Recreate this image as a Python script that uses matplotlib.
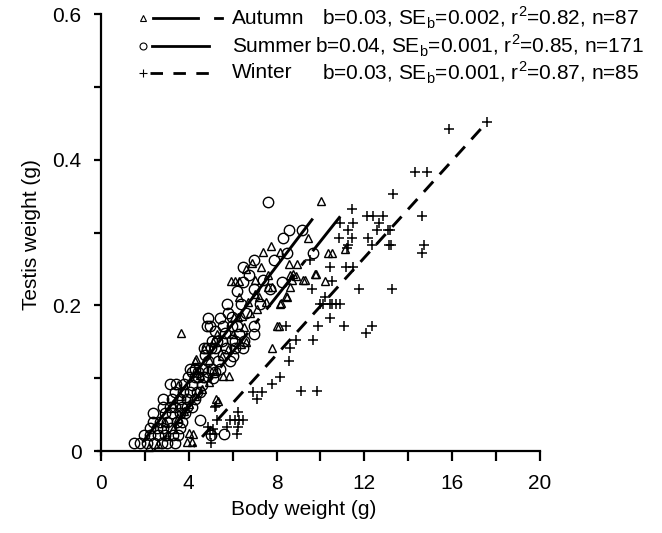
import numpy as np
import matplotlib
matplotlib.use('Agg')
import matplotlib.pyplot as plt
from matplotlib.lines import Line2D

plt.rcParams['font.family'] = ['Liberation Sans', 'DejaVu Sans']
plt.rcParams['mathtext.fontset'] = 'custom'
plt.rcParams['mathtext.rm'] = 'Liberation Sans'
plt.rcParams['lines.scale_dashes'] = False

# body weight (g), testis weight (g)
autumn_pts = [
    (10.02, 0.343), (9.45, 0.293), (10.36, 0.272), (10.54, 0.272), (11.12, 0.277), (8.58, 0.257),
    (8.94, 0.257), (9.75, 0.243), (8.75, 0.243), (8.9, 0.240), (9.2, 0.235), (10.2, 0.233),
    (8.43, 0.213), (8.2, 0.203), (7.75, 0.282), (7.4, 0.273), (8.15, 0.273), (7.28, 0.252),
    (6.6, 0.250), (7.6, 0.242), (8.6, 0.242), (5.9, 0.233), (6.1, 0.233), (6.3, 0.233),
    (8.7, 0.235), (9.3, 0.235), (9.8, 0.243), (7.6, 0.225), (7.8, 0.225), (8.6, 0.225),
    (6.3, 0.212), (7.0, 0.215), (7.2, 0.212), (8.46, 0.212), (8.16, 0.202), (8.0, 0.171),
    (7.78, 0.142), (6.05, 0.184), (6.24, 0.184), (6.41, 0.185), (6.4, 0.147), (6.6, 0.150),
    (5.57, 0.103), (5.82, 0.103), (5.25, 0.072), (5.35, 0.068), (4.33, 0.126), (4.28, 0.123),
    (3.93, 0.013), (4.13, 0.013), (4.0, 0.025), (4.2, 0.023), (3.64, 0.162), (8.1, 0.171),
    (3.52, 0.090), (2.2, 0.005), (2.6, 0.010), (3.0, 0.020), (3.3, 0.030), (3.5, 0.045),
    (3.8, 0.055), (4.0, 0.065), (4.3, 0.075), (4.6, 0.085), (4.9, 0.095), (5.2, 0.110),
    (5.5, 0.130), (5.8, 0.140), (6.0, 0.160), (6.5, 0.170), (6.8, 0.190), (7.1, 0.195),
    (7.5, 0.205), (2.9, 0.040), (3.3, 0.065), (3.6, 0.075), (4.5, 0.105), (4.9, 0.125),
    (5.3, 0.160), (6.7, 0.205), (7.0, 0.235), (6.9, 0.258), (5.1, 0.150), (4.7, 0.140),
]

summer_pts = [
    (7.59, 0.342), (8.58, 0.303), (8.31, 0.292), (9.16, 0.303), (8.46, 0.272), (9.64, 0.272),
    (6.97, 0.262), (7.88, 0.262), (6.45, 0.252), (6.76, 0.242), (6.45, 0.232), (8.23, 0.232),
    (6.97, 0.222), (7.72, 0.222), (5.73, 0.202), (6.36, 0.202), (7.24, 0.202), (4.89, 0.182),
    (5.42, 0.182), (5.95, 0.184), (4.82, 0.172), (4.95, 0.172), (5.57, 0.171), (5.95, 0.171),
    (6.18, 0.172), (6.97, 0.172), (5.65, 0.162), (6.30, 0.161), (6.97, 0.160), (5.04, 0.151),
    (5.27, 0.151), (5.50, 0.151), (5.95, 0.152), (6.10, 0.151), (6.50, 0.151), (4.70, 0.142),
    (4.85, 0.141), (5.00, 0.141), (5.20, 0.141), (5.70, 0.141), (6.10, 0.141), (6.48, 0.142),
    (4.74, 0.132), (5.57, 0.132), (4.89, 0.123), (5.35, 0.123), (5.88, 0.123), (6.0, 0.130),
    (4.05, 0.112), (4.28, 0.112), (4.66, 0.112), (5.04, 0.112), (5.42, 0.112), (3.97, 0.102),
    (4.28, 0.102), (4.66, 0.102), (5.1, 0.100), (3.14, 0.092), (3.42, 0.092), (3.78, 0.092),
    (4.13, 0.091), (4.59, 0.091), (3.37, 0.081), (3.75, 0.081), (4.05, 0.081), (4.36, 0.081),
    (4.51, 0.081), (2.81, 0.072), (3.22, 0.072), (3.60, 0.072), (3.90, 0.072), (4.28, 0.072),
    (2.84, 0.061), (3.14, 0.061), (3.37, 0.061), (3.68, 0.061), (3.90, 0.061), (4.13, 0.061),
    (2.38, 0.052), (2.92, 0.052), (3.22, 0.052), (3.60, 0.052), (3.83, 0.052), (2.38, 0.040),
    (2.69, 0.040), (2.99, 0.040), (3.45, 0.040), (3.68, 0.040), (4.51, 0.043), (2.23, 0.031),
    (2.53, 0.031), (2.84, 0.031), (3.20, 0.031), (3.60, 0.031), (1.97, 0.022), (2.23, 0.022),
    (2.61, 0.022), (2.92, 0.022), (3.29, 0.022), (3.52, 0.022), (5.0, 0.022), (5.6, 0.023),
    (1.52, 0.011), (1.78, 0.011), (2.08, 0.011), (2.43, 0.011), (2.77, 0.011), (3.00, 0.011),
    (3.37, 0.011), (4.43, 0.102), (4.74, 0.102), (4.13, 0.109), (4.43, 0.109), (4.89, 0.109),
    (5.2, 0.109), (5.2, 0.165), (5.8, 0.190), (6.6, 0.190), (7.4, 0.235), (6.2, 0.220),
]

winter_pts = [
    (17.57, 0.452), (15.87, 0.442), (14.31, 0.383), (14.84, 0.383), (13.32, 0.353), (11.42, 0.332),
    (12.13, 0.323), (12.41, 0.323), (12.86, 0.323), (14.64, 0.323), (10.89, 0.313), (11.5, 0.313),
    (12.68, 0.313), (11.27, 0.303), (12.59, 0.303), (13.09, 0.303), (13.17, 0.303), (10.86, 0.292),
    (11.45, 0.292), (12.18, 0.292), (11.24, 0.283), (11.2, 0.279), (12.36, 0.283), (13.1, 0.283),
    (13.2, 0.283), (14.73, 0.283), (14.61, 0.272), (9.5, 0.262), (10.43, 0.252), (11.16, 0.252),
    (11.47, 0.252), (10.51, 0.233), (9.6, 0.222), (11.77, 0.222), (13.24, 0.222), (10.2, 0.212),
    (9.98, 0.202), (10.13, 0.202), (10.43, 0.202), (10.51, 0.202), (10.71, 0.202), (10.89, 0.202),
    (10.43, 0.182), (8.43, 0.172), (9.9, 0.172), (11.07, 0.172), (12.33, 0.172), (12.06, 0.162),
    (8.9, 0.152), (9.64, 0.152), (8.61, 0.142), (8.58, 0.123), (8.15, 0.102), (7.78, 0.092),
    (6.94, 0.081), (7.32, 0.081), (7.12, 0.071), (9.1, 0.082), (9.83, 0.082), (5.24, 0.062),
    (6.26, 0.053), (5.88, 0.043), (6.1, 0.043), (6.3, 0.043), (6.46, 0.043), (5.73, 0.033),
    (6.26, 0.033), (4.89, 0.033), (6.18, 0.023), (5.0, 0.011), (5.3, 0.043), (5.1, 0.030),
    (4.97, 0.024), (5.2, 0.024), (5.2, 0.061),
]

seasons = ['Autumn', 'Summer', 'Winter']
stat_b = ['0.03', '0.04', '0.03']
stat_se = ['0.002', '0.001', '0.001']
stat_r2 = ['0.82', '0.85', '0.87']
stat_n = ['87', '171', '85']
# regression lines: intercept, slope, x span
fit_a = [-0.092, -0.063, -0.134]
fit_b = [0.038, 0.0396, 0.0333]
fit_span = [(10.9, 2.45), (9.65, 1.9), (17.3, 4.2)]

markers = ['^', 'o', '+']
msizes = [5.5, 7.5, 7.5]
styles = [(0, (32, 8.5, 4.5, 8.5)), '-', (0, (10, 7))]

fig = plt.figure(figsize=(6.62, 5.33), dpi=100)
ax = fig.add_axes([0.1476, 0.1456, 0.6681, 0.8281])

for pts, m, ms in zip([autumn_pts, summer_pts, winter_pts], markers, msizes):
    p = np.array(pts)
    if m == '+':
        ax.plot(p[:, 0], p[:, 1], ls='none', marker=m, ms=ms, mew=1.1, color='black', clip_on=False)
    else:
        ax.plot(p[:, 0], p[:, 1], ls='none', marker=m, ms=ms, mfc='none', mec='black', mew=1.0,
                clip_on=False)

for a, b, span, st in zip(fit_a, fit_b, fit_span, styles):
    x = np.array(span)
    ax.plot(x, a + b * x, color='black', lw=2.1, linestyle=st, solid_capstyle='butt',
            dash_capstyle='butt')

ax.set_xlim(-0.15, 20)
ax.set_ylim(-0.006, 0.6)
ax.spines['left'].set_position(('data', 0))
ax.spines['bottom'].set_position(('data', 0))
ax.spines['right'].set_visible(False)
ax.spines['top'].set_visible(False)
for s in ['left', 'bottom']:
    ax.spines[s].set_linewidth(1.6)
ax.set_xticks([0, 4, 8, 12, 16, 20])
ax.set_xticks([2, 6, 10, 14, 18], minor=True)
ax.set_yticks([0, 0.2, 0.4, 0.6])
ax.set_yticks([0.1, 0.3, 0.5], minor=True)
ax.set_yticklabels(['0', '0.2', '0.4', '0.6'])
ax.tick_params(which='both', direction='out', width=1.6, labelsize=15)
ax.tick_params(axis='y', which='both', length=5, pad=9)
ax.tick_params(axis='x', which='both', length=7.5, pad=9)

ax.set_xlabel('Body weight (g)', fontsize=15, va='top')
ax.xaxis.set_label_coords(0.466, -0.100)
ax.set_ylabel('Testis weight (g)', fontsize=15, labelpad=8)

# legend drawn by hand, in pixels
W, H = 662, 533
rows_y = [18, 46, 73]
stat_x = [322, 315, 322]
for i in range(3):
    yf = 1 - rows_y[i] / H
    m = markers[i]
    fig.add_artist(Line2D([143 / W], [yf], marker=m, ms=[4, 5, 6][i], mfc='none' if m != '+' else 'black',
                          mec='black', mew=0.8, ls='none', transform=fig.transFigure))
    if i == 0:
        fig.add_artist(Line2D([153 / W, 198 / W], [yf, yf], color='black', lw=2.0, transform=fig.transFigure))
        fig.add_artist(Line2D([215 / W, 222 / W], [yf, yf], color='black', lw=2.0, transform=fig.transFigure))
    elif i == 1:
        fig.add_artist(Line2D([152 / W, 209 / W], [yf, yf], color='black', lw=2.0, transform=fig.transFigure))
    else:
        fig.add_artist(Line2D([150 / W, 209 / W], [yf, yf], color='black', lw=2.0, linestyle=(0, (9, 7.5)),
                              transform=fig.transFigure))
    fig.text(232 / W, yf, seasons[i], fontsize=15, ha='left', va='center')
    txt = ('b=' + stat_b[i] + ', SE$_{\\mathrm{b}}$=' + stat_se[i] + ', r$^{2}$=' + stat_r2[i]
           + ', n=' + stat_n[i])
    fig.text(stat_x[i] / W, yf, txt, fontsize=15, ha='left', va='center')

fig.savefig('out.png', dpi=100)
